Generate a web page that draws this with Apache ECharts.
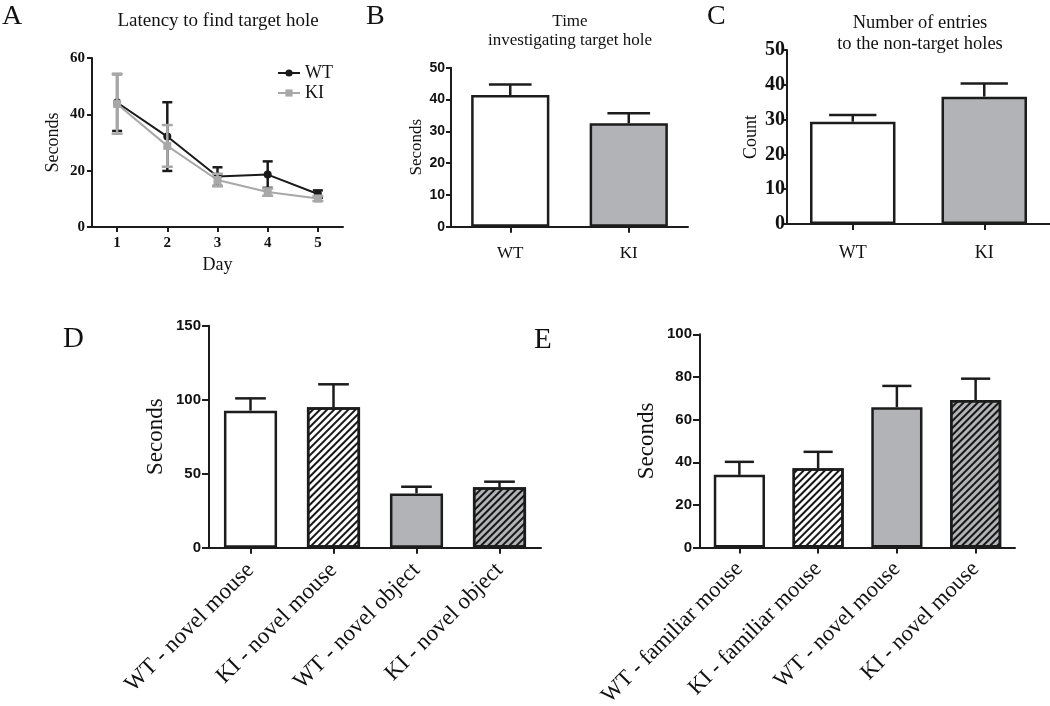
<!DOCTYPE html>
<html>
<head>
<meta charset="utf-8">
<script src="https://cdn.jsdelivr.net/npm/echarts@6/dist/echarts.min.js"></script>
<style>
html,body{margin:0;padding:0;background:#fff;}
#chart{width:1050px;height:706px;}
</style>
</head>
<body>
<div id="chart"></div>
<script>
// ---------- data ----------
const days = ['1', '2', '3', '4', '5'];
const wtLatency = [44.2, 32.1, 17.9, 18.6, 11.7];
const wtLatencyErr = [10.1, 12.2, 3.3, 4.7, 1.3];
const kiLatency = [43.7, 28.8, 16.7, 12.4, 10.1];
const kiLatencyErr = [10.6, 7.4, 2.2, 1.3, 0.9];

const genotypes = ['WT', 'KI'];
const timeTarget = [41.4, 32.5];
const timeTargetErr = [3.3, 3.2];
const entriesNonTarget = [29.4, 36.6];
const entriesNonTargetErr = [1.9, 3.8];

const sociabilityCats = ['WT - novel mouse', 'KI - novel mouse', 'WT - novel object', 'KI - novel object'];
const sociabilityVals = [92.6, 94.9, 36.7, 40.8];
const sociabilityErr = [8.3, 15.5, 4.5, 3.8];

const noveltyCats = ['WT - familiar mouse', 'KI - familiar mouse', 'WT - novel mouse', 'KI - novel mouse'];
const noveltyVals = [34.1, 37.2, 65.8, 69.2];
const noveltyErr = [6.1, 7.7, 10.0, 10.0];

// ---------- styles ----------
const SERIF = '"Liberation Serif", "Times New Roman", serif';
const SANS = '"Liberation Sans", Arial, sans-serif';
const INK = '#1c1c1c';
const GREY = '#b2b3b7';
const hatch = {
  symbol: 'rect', symbolSize: 1,
  dashArrayX: [1, 0], dashArrayY: [1.6, 2.6],
  rotation: -Math.PI / 4, color: '#161616'
};
const fills4 = [
  { color: '#ffffff' },
  { color: '#ffffff', decal: hatch },
  { color: GREY },
  { color: GREY, decal: hatch }
];
const fills2 = [{ color: '#ffffff' }, { color: GREY }];

function catAxis(gi, cats, opt) {
  return Object.assign({
    type: 'category', gridIndex: gi, data: cats, boundaryGap: true,
    axisLine: { show: true, lineStyle: { color: INK, width: 2 } },
    axisTick: { show: true, alignWithLabel: true, length: 6, lineStyle: { color: INK, width: 2 } },
    splitLine: { show: false }
  }, opt);
}
function valAxis(gi, max, interval, opt) {
  return Object.assign({
    type: 'value', gridIndex: gi, min: 0, max: max, interval: interval,
    axisLine: { show: true, lineStyle: { color: INK, width: 2 } },
    axisTick: { show: true, length: 5, lineStyle: { color: INK, width: 2 } },
    splitLine: { show: false },
    nameLocation: 'middle', nameRotate: 90
  }, opt);
}
function barSeries(ai, vals, fills, width) {
  return {
    type: 'bar', xAxisIndex: ai, yAxisIndex: ai, barWidth: width,
    data: vals.map((v, i) => ({
      value: v,
      itemStyle: Object.assign({ borderColor: INK, borderWidth: 2.5 }, fills[i])
    })),
    z: 2
  };
}
function errSeries(ai, vals, errs, o) {
  return {
    type: 'custom', xAxisIndex: ai, yAxisIndex: ai, z: o.z || 3,
    encode: { x: 0, y: 1 },
    data: vals.map((v, i) => [i, v, errs[i]]),
    renderItem: function (params, api) {
      const i = api.value(0), v = api.value(1), e = api.value(2);
      const top = api.coord([i, v + e]);
      const bot = o.both ? api.coord([i, v - e]) : api.coord([i, v]);
      const w = o.capPx ? o.capPx : api.size([1, 0])[0] * o.capFrac;
      const st = { stroke: o.color || INK, lineWidth: o.lw || 2.5 };
      const children = [
        { type: 'line', shape: { x1: top[0], y1: top[1], x2: bot[0], y2: bot[1] }, style: st },
        { type: 'line', shape: { x1: top[0] - w / 2, y1: top[1], x2: top[0] + w / 2, y2: top[1] }, style: st }
      ];
      if (o.both) children.push({ type: 'line', shape: { x1: bot[0] - w / 2, y1: bot[1], x2: bot[0] + w / 2, y2: bot[1] }, style: st });
      return { type: 'group', children: children };
    }
  };
}
function txt(x, y, text, font, align, valign, rot) {
  return {
    type: 'text', x: x, y: y, rotation: rot || 0,
    style: { text: text, font: font, fill: '#111', textAlign: align || 'left', textVerticalAlign: valign || 'top', align: align || 'left', verticalAlign: valign || 'top' }
  };
}

const option = {
  animation: false,
  backgroundColor: '#ffffff',
  textStyle: { fontFamily: SERIF, color: '#111' },
  grid: [
    { left: 92, top: 58, width: 251, height: 169, outerBoundsMode: 'none' },
    { left: 451, top: 67.7, width: 237, height: 159, outerBoundsMode: 'none' },
    { left: 787, top: 50, width: 263, height: 174, outerBoundsMode: 'none' },
    { left: 209, top: 325.7, width: 332, height: 222, outerBoundsMode: 'none' },
    { left: 700, top: 334.3, width: 315, height: 213.3, outerBoundsMode: 'none' }
  ],
  legend: {
    data: ['WT', 'KI'], orient: 'vertical', left: 272, top: 59,
    itemWidth: 22, itemHeight: 9, itemGap: 2,
    textStyle: { fontFamily: SERIF, fontSize: 18, color: '#111' }
  },
  xAxis: [
    catAxis(0, days, {
      axisTick: { show: true, alignWithLabel: true, length: 5, lineStyle: { color: INK, width: 2 } },
      axisLabel: { fontFamily: SERIF, fontWeight: 'bold', fontSize: 15, color: '#111', margin: 9 },
      name: 'Day', nameLocation: 'middle', nameGap: 29,
      nameTextStyle: { fontFamily: SERIF, fontSize: 18, color: '#111' }
    }),
    catAxis(1, genotypes, {
      axisLabel: { fontFamily: SERIF, fontSize: 17, color: '#111', margin: 18 }
    }),
    catAxis(2, genotypes, {
      axisLabel: { fontFamily: SERIF, fontSize: 18, color: '#111', margin: 20 }
    }),
    catAxis(3, sociabilityCats, {
      axisLabel: { fontFamily: SERIF, fontSize: 23, color: '#111', rotate: 45, interval: 0, margin: 19 }
    }),
    catAxis(4, noveltyCats, {
      axisLabel: { fontFamily: SERIF, fontSize: 22.5, color: '#111', rotate: 45, interval: 0, margin: 18 }
    })
  ],
  yAxis: [
    valAxis(0, 60, 20, {
      axisLabel: { fontFamily: SERIF, fontWeight: 'bold', fontSize: 15, color: '#111', margin: 7 },
      name: 'Seconds', nameGap: 30, nameTextStyle: { fontFamily: SERIF, fontSize: 18, color: '#111' }
    }),
    valAxis(1, 50, 10, {
      axisLabel: { fontFamily: SANS, fontWeight: 'bold', fontSize: 14, color: '#111', margin: 6 },
      name: 'Seconds', nameGap: 25, nameTextStyle: { fontFamily: SERIF, fontSize: 17, color: '#111' }
    }),
    valAxis(2, 50, 10, {
      axisTick: { show: true, length: 3, lineStyle: { color: INK, width: 2 } },
      axisLabel: { fontFamily: SERIF, fontWeight: 'bold', fontSize: 20, color: '#111', margin: 2 },
      name: 'Count', nameGap: 27, nameTextStyle: { fontFamily: SERIF, fontSize: 18, color: '#111' }
    }),
    valAxis(3, 150, 50, {
      axisTick: { show: true, length: 7, lineStyle: { color: INK, width: 2 } },
      axisLabel: { fontFamily: SANS, fontWeight: 'bold', fontSize: 15, color: '#111', margin: 8 },
      name: 'Seconds', nameGap: 42, nameTextStyle: { fontFamily: SERIF, fontSize: 23, color: '#111' }
    }),
    valAxis(4, 100, 20, {
      axisTick: { show: true, length: 7, lineStyle: { color: INK, width: 2 } },
      axisLabel: { fontFamily: SANS, fontWeight: 'bold', fontSize: 15, color: '#111', margin: 8 },
      name: 'Seconds', nameGap: 42, nameTextStyle: { fontFamily: SERIF, fontSize: 23, color: '#111' }
    })
  ],
  series: [
    errSeries(0, wtLatency, wtLatencyErr, { both: true, capPx: 10, color: '#1a1a1a', lw: 2.5, z: 3 }),
    {
      name: 'WT', type: 'line', xAxisIndex: 0, yAxisIndex: 0, data: wtLatency,
      symbol: 'circle', symbolSize: 8, z: 4,
      lineStyle: { color: '#1a1a1a', width: 2 }, itemStyle: { color: '#1a1a1a' }
    },
    errSeries(0, kiLatency, kiLatencyErr, { both: true, capPx: 11, color: '#a8a8a8', lw: 2.5, z: 5 }),
    {
      name: 'KI', type: 'line', xAxisIndex: 0, yAxisIndex: 0, data: kiLatency,
      symbol: 'rect', symbolSize: 8, z: 6,
      lineStyle: { color: '#a8a8a8', width: 2 }, itemStyle: { color: '#a8a8a8' }
    },
    barSeries(1, timeTarget, fills2, '66%'),
    errSeries(1, timeTarget, timeTargetErr, { capFrac: 0.36 }),
    barSeries(2, entriesNonTarget, fills2, '65%'),
    errSeries(2, entriesNonTarget, entriesNonTargetErr, { capFrac: 0.36 }),
    barSeries(3, sociabilityVals, fills4, '64%'),
    errSeries(3, sociabilityVals, sociabilityErr, { capFrac: 0.37 }),
    barSeries(4, noveltyVals, fills4, '65%'),
    errSeries(4, noveltyVals, noveltyErr, { capFrac: 0.37 })
  ],
  graphic: [
    txt(2, 3, 'A', '28px ' + SERIF),
    txt(366, 3, 'B', '28px ' + SERIF),
    txt(707, 3, 'C', '28px ' + SERIF),
    txt(63, 325, 'D', '29px ' + SERIF),
    txt(534, 326, 'E', '29px ' + SERIF),
    txt(218, 21, 'Latency to find target hole', '19px ' + SERIF, 'center', 'middle'),
    txt(570, 22, 'Time', '17px ' + SERIF, 'center', 'middle'),
    txt(570, 41, 'investigating target hole', '17px ' + SERIF, 'center', 'middle'),
    txt(920, 23, 'Number of entries', '18.5px ' + SERIF, 'center', 'middle'),
    txt(920, 44, 'to the non-target holes', '18.5px ' + SERIF, 'center', 'middle')
  ]
};

const chart = echarts.init(document.getElementById('chart'), null, { renderer: 'canvas' });
chart.setOption(option);
</script>
</body>
</html>
